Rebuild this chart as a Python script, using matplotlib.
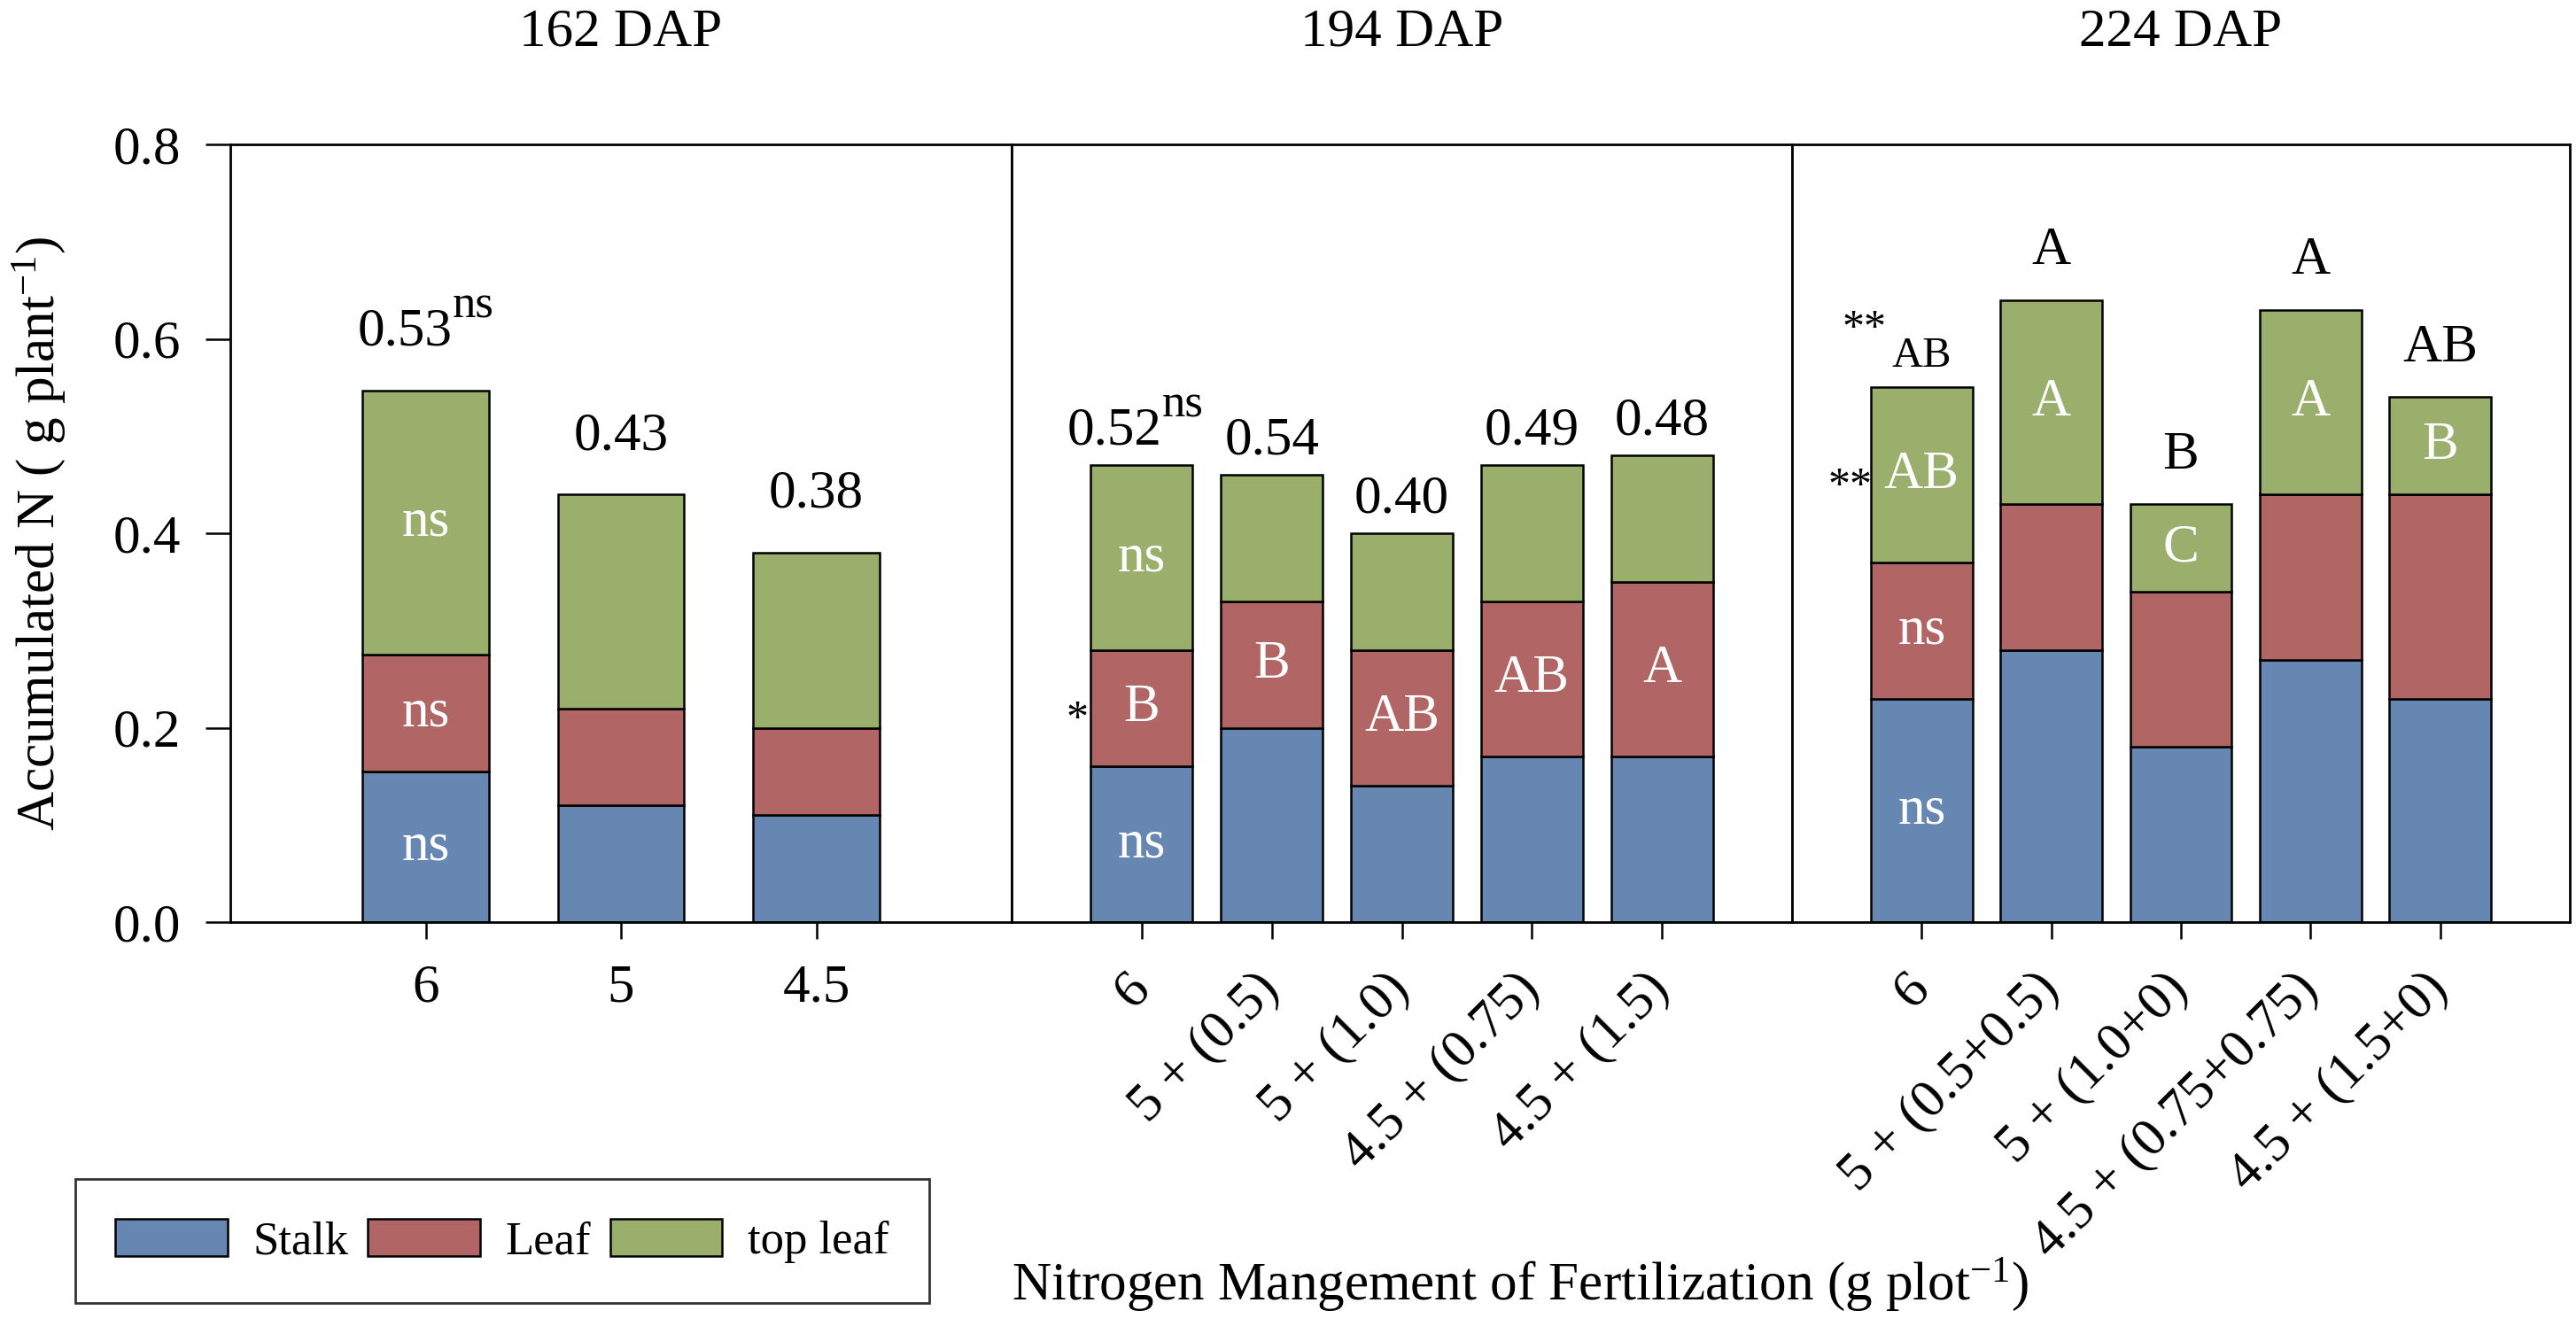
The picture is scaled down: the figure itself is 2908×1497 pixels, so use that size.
import numpy as np
import matplotlib
matplotlib.use('Agg')
import matplotlib.pyplot as plt
from matplotlib.patches import Patch

plt.rcParams['font.family'] = ['Liberation Serif', 'DejaVu Serif']
plt.rcParams['mathtext.fontset'] = 'custom'
plt.rcParams['mathtext.rm'] = 'Liberation Serif'
plt.rcParams['mathtext.it'] = 'Liberation Serif:italic'

STALK_C = '#6687b2'
LEAF_C = '#b16564'
TOP_C = '#9aaf6c'
FS = 44

# 162 DAP (segment heights, g plant-1)
dap162_labels = ['6', '5', '4.5']
dap162_stalk = [0.155, 0.12, 0.11]
dap162_leaf = [0.12, 0.10, 0.09]
dap162_top = [0.272, 0.22, 0.18]
dap162_totals = ['0.53', '0.43', '0.38']
dap162_in_stalk = ['ns', '', '']
dap162_in_leaf = ['ns', '', '']
dap162_in_top = ['ns', '', '']

# 194 DAP
dap194_labels = ['6', '5 + (0.5)', '5 + (1.0)', '4.5 + (0.75)', '4.5 + (1.5)']
dap194_stalk = [0.16, 0.20, 0.14, 0.17, 0.17]
dap194_leaf = [0.12, 0.13, 0.14, 0.16, 0.18]
dap194_top = [0.19, 0.13, 0.12, 0.14, 0.13]
dap194_totals = ['0.52', '0.54', '0.40', '0.49', '0.48']
dap194_in_stalk = ['ns', '', '', '', '']
dap194_in_leaf = ['B', 'B', 'AB', 'AB', 'A']
dap194_in_top = ['ns', '', '', '', '']

# 224 DAP
dap224_labels = ['6', '5 + (0.5+0.5)', '5 + (1.0+0)', '4.5 + (0.75+0.75)', '4.5 + (1.5+0)']
dap224_stalk = [0.23, 0.28, 0.18, 0.27, 0.23]
dap224_leaf = [0.14, 0.15, 0.16, 0.17, 0.21]
dap224_top = [0.18, 0.21, 0.09, 0.19, 0.10]
dap224_above = ['AB', 'A', 'B', 'A', 'AB']
dap224_in_stalk = ['ns', '', '', '', '']
dap224_in_leaf = ['ns', '', '', '', '']
dap224_in_top = ['AB', 'A', 'C', 'A', 'B']

fig = plt.figure(figsize=(29.08, 14.97), dpi=100)
renderer = fig.canvas.get_renderer()

W, H = 2908, 1497
bottom = 1 - 1041 / H
height = (1041 - 163) / H
lefts = [260 / W, 1142 / W, 2023 / W, 2901 / W]
axes = [fig.add_axes([lefts[i], bottom, lefts[i + 1] - lefts[i], height]) for i in range(3)]


def draw_stack(ax, stalk, leaf, top, width):
    x = np.arange(len(stalk))
    stalk = np.array(stalk)
    leaf = np.array(leaf)
    top = np.array(top)
    kw = dict(width=width, edgecolor='black', linewidth=1.8, zorder=2)
    b1 = ax.bar(x, stalk, color=STALK_C, **kw)
    b2 = ax.bar(x, leaf, bottom=stalk, color=LEAF_C, **kw)
    b3 = ax.bar(x, top, bottom=stalk + leaf, color=TOP_C, **kw)
    return b1, b2, b3


def label_inside(ax, bars, texts):
    for b, t in zip(bars, texts):
        if t:
            ax.text(b.get_x() + b.get_width() / 2, b.get_y() + b.get_height() / 2, t,
                    ha='center', va='center', color='white', fontsize=FS, zorder=3)


def total_with_ns(ax, x, y, num):
    # number + superscript "ns", the pair centred over the bar
    t = ax.text(x, y, num, ha='center', va='center', fontsize=FS)
    a = ax.annotate('ns', xy=(1, 0.6), xycoords=t, ha='left', va='bottom', fontsize=38)
    w_px = a.get_window_extent(renderer).width
    x0 = ax.transData.inverted().transform((0, 0))[0]
    x1 = ax.transData.inverted().transform((w_px, 0))[0]
    t.set_x(x - (x1 - x0) / 2)


def style_axis(ax, n, labels, rotate):
    ax.set_xlim(-1, n)
    ax.set_ylim(0, 0.8)
    ax.set_xticks(np.arange(n))
    for s in ax.spines.values():
        s.set_linewidth(2)
    if rotate:
        ax.set_xticklabels(labels, rotation=45, ha='right', va='center',
                           rotation_mode='anchor', fontsize=FS)
        ax.tick_params(axis='x', length=14, width=1.8, pad=34)
    else:
        ax.set_xticklabels(labels, fontsize=FS)
        ax.tick_params(axis='x', length=14, width=1.8, pad=20)


# panel 1
ax = axes[0]
bars = draw_stack(ax, dap162_stalk, dap162_leaf, dap162_top, 0.645)
for bs, txt in zip(bars, [dap162_in_stalk, dap162_in_leaf, dap162_in_top]):
    label_inside(ax, bs, txt)
style_axis(ax, 3, dap162_labels, False)
ax.set_yticks([0.0, 0.2, 0.4, 0.6, 0.8])
ax.set_yticklabels(['0.0', '0.2', '0.4', '0.6', '0.8'], fontsize=FS)
ax.tick_params(axis='y', length=20, width=1.8, pad=20)
for i, b in enumerate(bars[2]):
    y = b.get_y() + b.get_height() + 0.06
    if i == 0:
        total_with_ns(ax, i, y, dap162_totals[i])
    else:
        ax.text(i, y, dap162_totals[i], ha='center', va='center', fontsize=FS)

# panel 2
ax = axes[1]
bars = draw_stack(ax, dap194_stalk, dap194_leaf, dap194_top, 0.785)
for bs, txt in zip(bars, [dap194_in_stalk, dap194_in_leaf, dap194_in_top]):
    label_inside(ax, bs, txt)
style_axis(ax, 5, dap194_labels, True)
ax.set_yticks([])
for i, b in enumerate(bars[2]):
    y = b.get_y() + b.get_height() + 0.035
    if i == 0:
        total_with_ns(ax, i - 0.05, y, dap194_totals[i])
    else:
        ax.text(i, y, dap194_totals[i], ha='center', va='center', fontsize=FS)
b = bars[1][0]
ax.text(b.get_x() - 0.02, b.get_y() + b.get_height() / 2 - 0.012, '*',
        ha='right', va='center', fontsize=36)

# panel 3
ax = axes[2]
bars = draw_stack(ax, dap224_stalk, dap224_leaf, dap224_top, 0.785)
for bs, txt in zip(bars, [dap224_in_stalk, dap224_in_leaf, dap224_in_top]):
    label_inside(ax, bs, txt)
style_axis(ax, 5, dap224_labels, True)
ax.set_yticks([])
for i, b in enumerate(bars[2]):
    top = b.get_y() + b.get_height()
    if i == 0:
        ax.text(i, top + 0.032, dap224_above[i], ha='center', va='center', fontsize=35)
        ax.text(i - 0.44, top + 0.06, '**', ha='center', va='center', fontsize=36)
    else:
        ax.text(i, top + 0.05, dap224_above[i], ha='center', va='center', fontsize=FS)
b = bars[2][0]
ax.text(b.get_x() + 0.01, b.get_y() + b.get_height() / 2 - 0.012, '**',
        ha='right', va='center', fontsize=36)

# titles
for ax, title in zip(axes, ['162 DAP', '194 DAP', '224 DAP']):
    ax.set_title(title, fontsize=FS, pad=80)

fig.text(0.015, bottom + height / 2, 'Accumulated N ( g plant$^{-1}$)', rotation=90,
         ha='center', va='center', fontsize=FS)
fig.text(0.590, 0.02, 'Nitrogen Mangement of Fertilization (g plot$^{-1}$)',
         ha='center', va='baseline', fontsize=FS)

handles = [Patch(facecolor=c, edgecolor='black', linewidth=1.8) for c in (STALK_C, LEAF_C, TOP_C)]
leg = fig.legend(handles, ['Stalk', 'Leaf', 'top leaf'], loc='center',
                 bbox_to_anchor=(567 / W, 1 - 1401 / H), ncol=3, fontsize=38,
                 frameon=True, fancybox=False, handlelength=2.4, handleheight=0.87,
                 handletextpad=0.55, columnspacing=0.4, borderpad=0.85)
leg.get_frame().set_edgecolor('black')
leg.get_frame().set_linewidth(2)

fig.savefig('out.png', dpi=100)
